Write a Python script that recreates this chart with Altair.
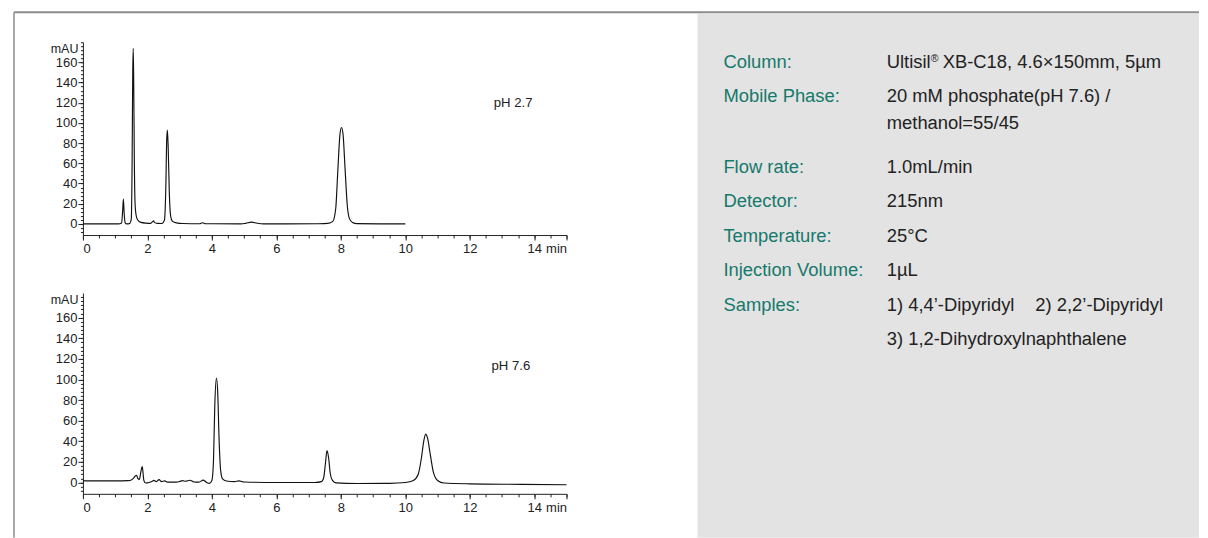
import altair as alt
import pandas as pd

# ---------------- data ----------------
# pH 2.7 chromatogram (time in min, signal in mAU)
t27 = [0, 1.10, 1.20, 1.23, 1.255, 1.28, 1.31, 1.36,
       1.45, 1.50, 1.525, 1.545, 1.56, 1.575, 1.595, 1.62, 1.66, 1.72, 1.80, 1.95,
       2.10, 2.17, 2.19, 2.22, 2.30, 2.45,
       2.53, 2.57, 2.60, 2.62, 2.645, 2.68, 2.72, 2.78, 2.90, 3.10,
       3.62, 3.71, 3.80,
       4.90, 5.05, 5.23, 5.40, 5.60,
       7.30, 7.60, 7.75, 7.84, 7.91, 7.97, 8.02, 8.07, 8.13, 8.20, 8.27, 8.36, 8.50, 10.0]
v27 = [0, 0, 1, 12, 24.5, 10, 1, 0,
       0.5, 5, 60, 150, 174, 140, 60, 18, 7, 3, 1.5, 0.8,
       0.6, 2.5, 3, 1.5, 0.5, 0.4,
       4, 35, 85, 93, 75, 30, 8, 2.5, 1, 0.4,
       0.2, 1.2, 0.2,
       0, 0.6, 1.8, 0.7, 0,
       0.2, 0.6, 2.5, 15, 55, 88, 95.5, 88, 55, 18, 5, 1.5, 0.3, 0]

# pH 7.6 chromatogram
t76 = [0, 1.0, 1.4, 1.5, 1.58, 1.63, 1.665, 1.70, 1.75, 1.79,
       1.82, 1.84, 1.865, 1.89, 1.95, 2.05, 2.14, 2.20, 2.27, 2.36,
       2.44, 2.54, 2.62, 2.90, 3.00, 3.09, 3.18, 3.32, 3.44, 3.60,
       3.73, 3.83, 3.92, 4.00, 4.05, 4.09, 4.14, 4.18, 4.22, 4.27,
       4.33, 4.45, 4.70, 4.84, 5.00, 6.00, 7.20, 7.40, 7.47, 7.52,
       7.57, 7.62, 7.67, 7.74, 7.85, 8.50, 9.50, 10.00, 10.25, 10.40,
       10.50, 10.57, 10.63, 10.69, 10.77, 10.87, 11.00, 11.20, 12.00, 13.60,
       15.00]
v76 = [1.5, 1.5, 1.8, 2.5, 4.5, 6.5, 7, 4, 3, 9,
       14, 15.5, 9, 2, -0.5, 0, 1, 2, 0.8, 2.8,
       0.8, 1.5, 0.3, 0.3, 1, 1.8, 1.2, 2.2, 0.5, 0.3,
       2.3, 0.2, -0.8, 2, 22, 75, 101.5, 88, 45, 12,
       3.5, 1.5, 0.8, 1.5, 0.5, 0, 0, 0.8, 5, 18,
       31, 24, 9, 2, -0.4, -1, -0.8, 0, 2, 8,
       24, 40, 47, 43, 28, 10, 2, -0.5, -1.3, -1.8,
       -2.2]

panel_names = ["pH 2.7", "pH 7.6"]
panel_label_pos = [(12.74, 119.6), (12.67, 113.2)]

x_major = [0, 2, 4, 6, 8, 10, 12, 14, 15]
x_minor = [0, 0.5, 1, 1.5, 2, 2.5, 3, 3.5, 4, 4.5, 5, 5.5, 6, 6.5, 7, 7.5,
           8, 8.5, 9, 9.5, 10, 10.5, 11, 11.5, 12, 12.5, 13, 13.5, 14, 14.5, 15]
y_major = [0, 20, 40, 60, 80, 100, 120, 140, 160]
y_minor = [-8, -4, 0, 4, 8, 12, 16, 20, 24, 28, 32, 36, 40, 44, 48, 52, 56, 60,
           64, 68, 72, 76, 80, 84, 88, 92, 96, 100, 104, 108, 112, 116, 120, 124,
           128, 132, 136, 140, 144, 148, 152, 156, 160, 164, 168, 172, 176, 180]

cond_labels = ["Column:", "Mobile Phase:", "Flow rate:", "Detector:",
               "Temperature:", "Injection Volume:", "Samples:"]
column_parts = ["Ultisil", "\u00ae", "XB-C18, 4.6\u00d7150mm, 5\u00b5m"]
mobile_lines = ["20 mM phosphate(pH 7.6) /", "methanol=55/45"]
flow_value = "1.0mL/min"
detector_value = "215nm"
temp_value = "25\u00b0C"
inj_value = "1\u00b5L"
samples_parts = ["1) 4,4\u2019-Dipyridyl", "2) 2,2\u2019-Dipyridyl",
                 "3) 1,2-Dihydroxylnaphthalene"]

# ---------------- layout / style constants ----------------
FONT = "Liberation Sans"
INK = "#222222"
TEAL = "#16796c"
PANEL_BG = "#e3e3e3"
FRAME = "#8c8c8c"
W = 484
LABEL_X = 641
VALUE_X = 804.5
ROW_Y = [25.7, 59.7, 130.7, 165.2, 199.7, 234.2, 268.7]
LINE2 = 27.5
RIGHT = 1117
BOTTOM = 496
PFS = 18.4   # panel font size
TFS = 13     # tick label font size
ONE = pd.DataFrame({"k": [0]})


def txt(s, x, y, color, size=PFS):
    return alt.Chart(pd.DataFrame({"txt": [s]})).mark_text(
        align="left", baseline="alphabetic", fontSize=size, color=color, font=FONT
    ).encode(x=alt.value(x), y=alt.value(y), text="txt:N")


def chrom(t, v, name, pos, ydom, h):
    df = pd.DataFrame({"t": t, "v": v})
    xs = alt.Scale(domain=[0, 15], nice=False, zero=False)
    ys = alt.Scale(domain=ydom, nice=False, zero=False)
    trace = alt.Chart(df).mark_line(
        color="#111111", strokeWidth=1.15, interpolate="monotone"
    ).encode(
        x=alt.X("t:Q", scale=xs, axis=alt.Axis(
            values=x_major, orient="bottom", title=None, tickSize=5,
            labelPadding=2.5, labelFontSize=TFS, labelColor=INK, tickColor=INK,
            domainColor=INK, labelFont=FONT,
            labelExpr="datum.value == 15 ? 'min' : datum.label")),
        y=alt.Y("v:Q", scale=ys, axis=alt.Axis(
            values=y_major, orient="left", tickSize=5, labelPadding=1,
            labelFontSize=TFS, labelColor=INK, tickColor=INK, domainColor=INK,
            labelFont=FONT, title="mAU", titleAngle=0, titleAlign="right",
            titleBaseline="middle", titleX=-5, titleY=6.5, titleFontSize=12.5,
            titleFontWeight="normal", titleColor=INK, titleFont=FONT)),
    )
    minor = alt.Chart(df).mark_line(strokeOpacity=0).encode(
        x=alt.X("t:Q", scale=xs, axis=alt.Axis(
            values=x_minor, orient="bottom", title=None, labels=False,
            tickSize=3, domain=False, tickColor=INK)),
        y=alt.Y("v:Q", scale=ys, axis=alt.Axis(
            values=y_minor, orient="left", title=None, labels=False,
            tickSize=2.5, domain=False, tickColor=INK)),
    )
    lab = alt.Chart(pd.DataFrame({"t": [pos[0]], "v": [pos[1]], "txt": [name]})).mark_text(
        align="left", baseline="middle", fontSize=13.2, color=INK, font=FONT
    ).encode(
        x=alt.X("t:Q", scale=xs, axis=None),
        y=alt.Y("v:Q", scale=ys, axis=None),
        text="txt:N",
    )
    return [trace, minor, lab], h


# ---------------- top chart (with frame and conditions panel) ----------------
layers_top, h_top = chrom(t27, v27, panel_names[0], panel_label_pos[0], [-11, 180], 193)

bg = alt.Chart(ONE).mark_rect(color=PANEL_BG).encode(
    x=alt.value(615), x2=alt.value(RIGHT), y=alt.value(-28.5), y2=alt.value(BOTTOM))
frame_left = alt.Chart(ONE).mark_rule(color=FRAME, strokeWidth=1.5).encode(
    x=alt.value(-69), y=alt.value(-30), y2=alt.value(BOTTOM))
frame_top = alt.Chart(ONE).mark_rule(color=FRAME, strokeWidth=2).encode(
    x=alt.value(-69), x2=alt.value(RIGHT), y=alt.value(-30))

texts = []
for lab, y in zip(cond_labels, ROW_Y):
    texts.append(txt(lab, LABEL_X, y, TEAL))
# Column value with superscript registered mark
texts.append(txt(column_parts[0], VALUE_X, ROW_Y[0], INK))
texts.append(txt(column_parts[1], VALUE_X + 44, ROW_Y[0] - 6, INK, size=10.5))
texts.append(txt(column_parts[2], VALUE_X + 56, ROW_Y[0], INK))
texts.append(txt(mobile_lines[0], VALUE_X, ROW_Y[1], INK))
texts.append(txt(mobile_lines[1], VALUE_X, ROW_Y[1] + LINE2, INK))
texts.append(txt(flow_value, VALUE_X, ROW_Y[2], INK))
texts.append(txt(detector_value, VALUE_X, ROW_Y[3], INK))
texts.append(txt(temp_value, VALUE_X, ROW_Y[4], INK))
texts.append(txt(inj_value, VALUE_X, ROW_Y[5], INK))
texts.append(txt(samples_parts[0], VALUE_X, ROW_Y[6], INK))
texts.append(txt(samples_parts[1], VALUE_X + 148.7, ROW_Y[6], INK))
texts.append(txt(samples_parts[2], VALUE_X, ROW_Y[6] + 34.5, INK))

top = alt.layer(bg, frame_left, frame_top, *texts, *layers_top).resolve_axis(
    x="independent", y="independent").properties(width=W, height=h_top)

# ---------------- bottom chart ----------------
layers_bot, h_bot = chrom(t76, v76, panel_names[1], panel_label_pos[1], [-11, 184], 201)
bottom = alt.layer(*layers_bot).resolve_axis(
    x="independent", y="independent").properties(width=W, height=h_bot)

chart = alt.vconcat(top, bottom, spacing=58, bounds="flush").properties(
    padding={"left": 5, "top": 3, "right": 0, "bottom": 0},
    background="white",
).configure(font=FONT).configure_view(stroke=None).configure_axis(grid=False)

chart.save("out.html", embed_options={"renderer": "svg", "actions": False})
